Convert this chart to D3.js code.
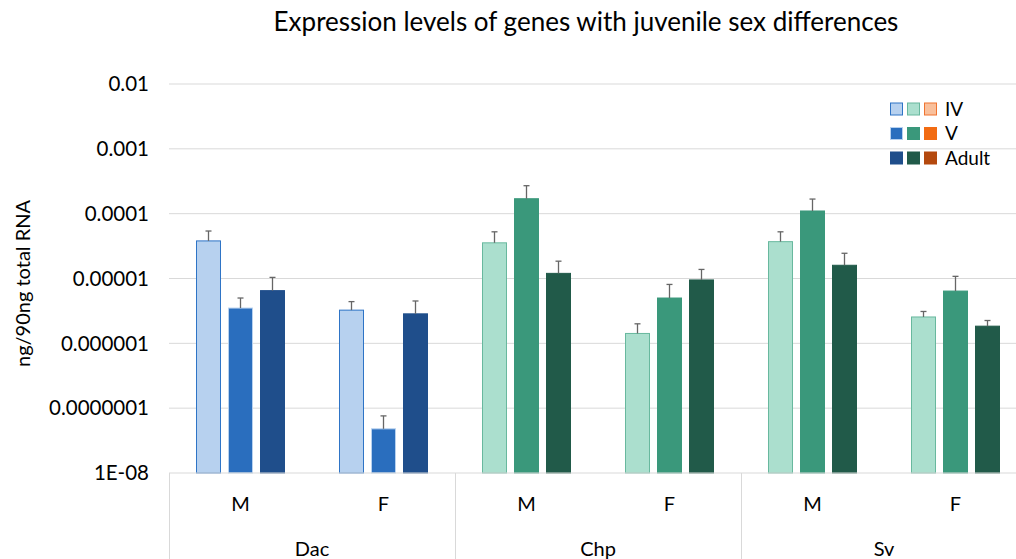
<!DOCTYPE html>
<html>
<head>
<meta charset="utf-8">
<script src="https://cdn.jsdelivr.net/npm/d3@7.9.0/dist/d3.min.js"></script>
<style>
  body { margin: 0; background: #fff; }
  svg { display: block; font-family: Lato, 'Open Sans', sans-serif; }
</style>
</head>
<body>
<svg id="chart" width="1016" height="559"></svg>
<script>
// Data
const genes = ['Dac', 'Chp', 'Sv'];
const sexes = ['M', 'F'];
const stages = ['IV', 'V', 'Adult'];
const yTicks = [1e-8, 1e-7, 1e-6, 1e-5, 1e-4, 1e-3, 1e-2];
const yTickLabels = ['1E-08', '0.0000001', '0.000001', '0.00001', '0.0001', '0.001', '0.01'];

// means per gene: [M stages], [F stages]
const dacMeans = [[3.8e-5, 3.5e-6, 6.5e-6], [3.25e-6, 4.8e-8, 2.85e-6]];
const chpMeans = [[3.55e-5, 1.7e-4, 1.2e-5], [1.42e-6, 5.0e-6, 9.5e-6]];
const svMeans  = [[3.7e-5, 1.1e-4, 1.6e-5], [2.55e-6, 6.4e-6, 1.84e-6]];
// standard errors (upper bars only)
const dacErr = [[1.6e-5, 1.5e-6, 3.9e-6], [1.15e-6, 2.8e-8, 1.65e-6]];
const chpErr = [[1.7e-5, 1.0e-4, 6.5e-6], [5.8e-7, 3.1e-6, 4.3e-6]];
const svErr  = [[1.55e-5, 5.8e-5, 8.5e-6], [5.5e-7, 4.4e-6, 4.1e-7]];

// colours
const blueFill = ['#b7d1ef', '#2a6ebe', '#1f4e8b'];
const greenFill = ['#abdfce', '#3a987b', '#215a49'];
const orangeFill = ['#f9c09c', '#f26b12', '#b4490e'];
const blueStroke = ['#2e74c6', '#b7d1ef', '#1f4e8b'];
const greenStroke = ['#68b89e', '#3a987b', '#215a49'];
const orangeStroke = ['#f07431', '#f26b12', '#b4490e'];

const geneColors = { Dac: [blueFill, blueStroke], Chp: [greenFill, greenStroke], Sv: [greenFill, greenStroke] };
const meansByGene = { Dac: dacMeans, Chp: chpMeans, Sv: svMeans };
const errByGene = { Dac: dacErr, Chp: chpErr, Sv: svErr };

// flatten into rows
let rows = [];
genes.forEach(g => {
  sexes.forEach((s, si) => {
    stages.forEach((st, ti) => {
      rows.push({ gene: g, sex: s, stage: st, idx: ti,
        value: meansByGene[g][si][ti], err: errByGene[g][si][ti] });
    });
  });
});

const svg = d3.select('#chart');
const plotLeft = 169, plotRight = 1027, plotTop = 84, plotBottom = 473;

let x0 = d3.scaleBand().domain(genes).range([plotLeft, plotRight]);
let x1 = d3.scaleBand().domain(sexes).range([0, x0.bandwidth()]);
let x2 = d3.scaleBand().domain(stages)
  .range([x1.bandwidth() / 2 - 48, x1.bandwidth() / 2 + 48])
  .paddingInner(7 / 32).paddingOuter(3.5 / 32);
let y = d3.scaleLog().domain([1e-8, 1e-2]).range([plotBottom, plotTop]);

// title
svg.append('text')
  .attr('x', 586).attr('y', 31)
  .attr('text-anchor', 'middle')
  .attr('font-size', 26)
  .attr('fill', '#000')
  .text('Expression levels of genes with juvenile sex differences');

// gridlines
svg.append('g').selectAll('line')
  .data(yTicks.slice(1))
  .join('line')
  .attr('x1', plotLeft).attr('x2', 1016)
  .attr('y1', d => y(d)).attr('y2', d => y(d))
  .attr('stroke', '#d9d9d9').attr('stroke-width', 1);

// y tick labels
svg.append('g').selectAll('text')
  .data(yTicks)
  .join('text')
  .attr('x', 149).attr('y', d => y(d))
  .attr('dy', '0.35em')
  .attr('text-anchor', 'end')
  .attr('font-size', 20.5)
  .attr('fill', '#000')
  .text((d, i) => yTickLabels[i]);

// y axis title
svg.append('text')
  .attr('transform', `translate(30,${(plotTop + plotBottom) / 2 + 5}) rotate(-90)`)
  .attr('text-anchor', 'middle')
  .attr('font-size', 20)
  .attr('fill', '#000')
  .text('ng/90ng total RNA');

// bars
const barX = d => x0(d.gene) + x1(d.sex) + x2(d.stage);
svg.append('g').selectAll('rect')
  .data(rows)
  .join('rect')
  .attr('x', d => barX(d) + 0.5)
  .attr('y', d => y(d.value))
  .attr('width', x2.bandwidth() - 1)
  .attr('height', d => plotBottom - y(d.value))
  .attr('fill', d => geneColors[d.gene][0][d.idx])
  .attr('stroke', d => geneColors[d.gene][1][d.idx])
  .attr('stroke-width', 1);

// error bars
let eb = svg.append('g').attr('stroke', '#666').attr('stroke-width', 1.3);
rows.forEach(d => {
  let cx = barX(d) + x2.bandwidth() / 2;
  let yTop = y(d.value + d.err);
  eb.append('line').attr('x1', cx).attr('x2', cx)
    .attr('y1', y(d.value)).attr('y2', yTop);
  eb.append('line').attr('x1', cx - 3).attr('x2', cx + 3)
    .attr('y1', yTop).attr('y2', yTop);
});

// category axis
let ax = svg.append('g').attr('stroke', '#d9d9d9').attr('stroke-width', 1);
ax.append('line').attr('x1', plotLeft).attr('x2', 1016).attr('y1', plotBottom).attr('y2', plotBottom);
genes.concat(['end']).forEach(g => {
  let xx = g === 'end' ? plotRight : x0(g);
  ax.append('line').attr('x1', xx + 0.5).attr('x2', xx + 0.5)
    .attr('y1', plotBottom).attr('y2', 559);
});

genes.forEach(g => {
  sexes.forEach(s => {
    svg.append('text')
      .attr('x', x0(g) + x1(s) + x1.bandwidth() / 2)
      .attr('y', 511)
      .attr('text-anchor', 'middle')
      .attr('font-size', 20)
      .attr('fill', '#000')
      .text(s);
  });
  svg.append('text')
    .attr('x', x0(g) + x0.bandwidth() / 2)
    .attr('y', 556)
    .attr('text-anchor', 'middle')
    .attr('font-size', 20)
    .attr('fill', '#000')
    .text(g);
});

// legend
const legendPalettes = [[blueFill, blueStroke], [greenFill, greenStroke], [orangeFill, orangeStroke]];
let legend = svg.append('g');
stages.forEach((st, i) => {
  let ly = 109 + i * 24.5;
  legendPalettes.forEach((p, j) => {
    legend.append('rect')
      .attr('x', 890.5 + j * 17).attr('y', ly - 6)
      .attr('width', 12).attr('height', 12)
      .attr('fill', p[0][i])
      .attr('stroke', p[1][i]).attr('stroke-width', 1);
  });
  legend.append('text')
    .attr('x', 945).attr('y', ly)
    .attr('dy', '0.35em')
    .attr('font-size', 19)
    .attr('fill', '#000')
    .text(st);
});
</script>
</body>
</html>
